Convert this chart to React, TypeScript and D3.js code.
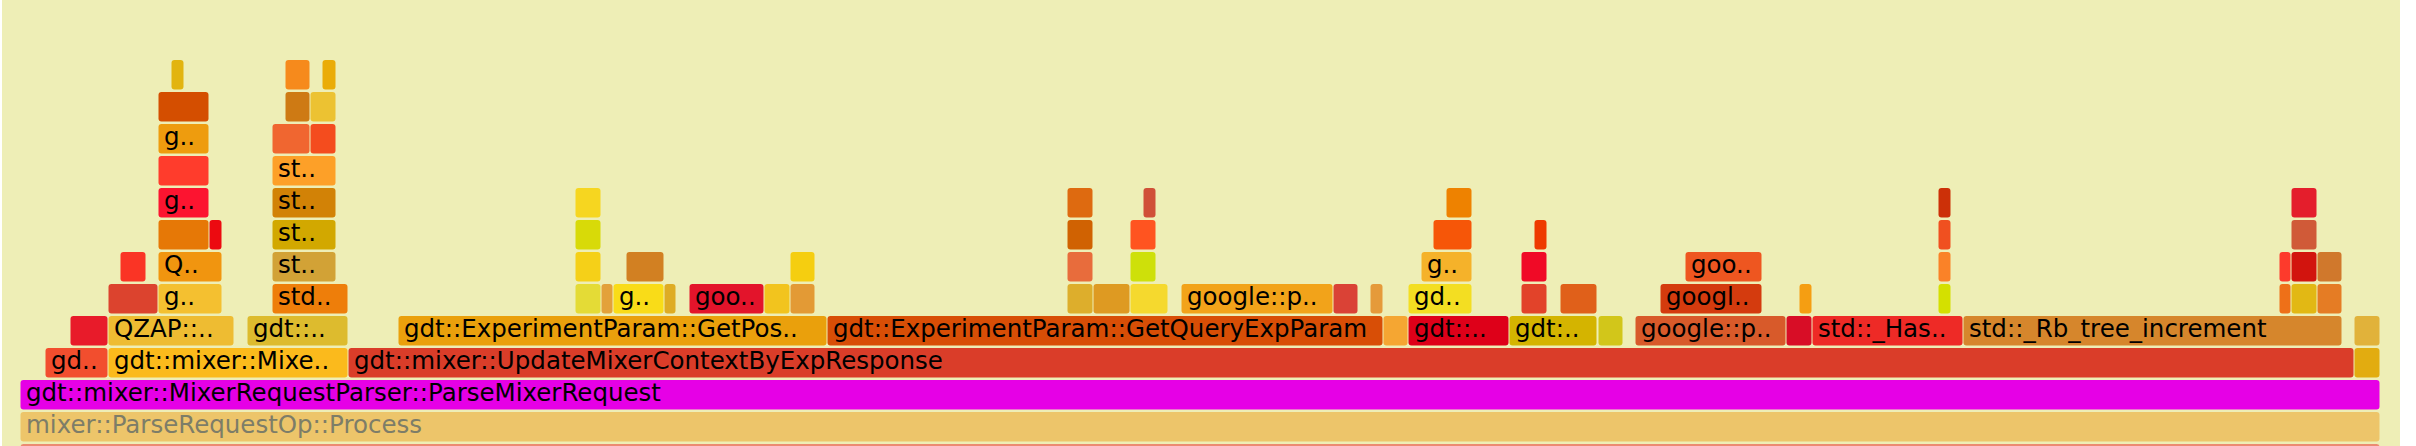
import React from "react";
import * as d3 from "d3";

// Flame graph data: each frame = [start sample, sample count, label]
type Frame = [number, number, string];

const TOTAL_SAMPLES = 2360;
const MAX_DEPTH = 12;

const depth0: Frame[] = [[0, 2360, ""]];
const depth0Colors = ["#ec8a72"];

const depth1: Frame[] = [[0, 2360, "mixer::ParseRequestOp::Process"]];
const depth1Colors = ["#edc56a"];

const depth2: Frame[] = [[0, 2360, "gdt::mixer::MixerRequestParser::ParseMixerRequest"]];
const depth2Colors = ["#e600e6"];

const depth3: Frame[] = [
  [25, 63, "gd.."],
  [88, 240, "gdt::mixer::Mixe.."],
  [328, 2006, "gdt::mixer::UpdateMixerContextByExpResponse"],
  [2334, 26, ""],
];
const depth3Colors = ["#f24e2e", "#fbba1c", "#da3d29", "#e2ac10"];

const depth4: Frame[] = [
  [50, 38, ""],
  [88, 126, "QZAP::.."],
  [227, 101, "gdt::.."],
  [378, 429, "gdt::ExperimentParam::GetPos.."],
  [807, 556, "gdt::ExperimentParam::GetQueryExpParam"],
  [1363, 25, ""],
  [1388, 101, "gdt::.."],
  [1489, 88, "gdt:.."],
  [1578, 25, ""],
  [1615, 151, "google::p.."],
  [1766, 26, ""],
  [1792, 151, "std::_Has.."],
  [1943, 379, "std::_Rb_tree_increment"],
  [2334, 26, ""],
];
const depth4Colors = [
  "#e81b2a", "#eebc32", "#ddbb2e", "#eaa00c", "#d84e06", "#f5a632", "#de0019",
  "#d4b400", "#d2c61a", "#d85a2a", "#d80d26", "#ee2a26", "#d6862c", "#e1b23a",
];

const depth5: Frame[] = [
  [88, 50, ""],
  [138, 64, "g.."],
  [252, 76, "std.."],
  [555, 26, ""],
  [581, 12, ""],
  [593, 51, "g.."],
  [644, 12, ""],
  [669, 75, "goo.."],
  [744, 26, ""],
  [770, 25, ""],
  [1047, 26, ""],
  [1073, 37, ""],
  [1110, 38, ""],
  [1161, 152, "google::p.."],
  [1313, 25, ""],
  [1350, 13, ""],
  [1388, 64, "gd.."],
  [1501, 26, ""],
  [1540, 37, ""],
  [1640, 102, "googl.."],
  [1779, 13, ""],
  [1918, 13, ""],
  [2259, 12, ""],
  [2271, 26, ""],
  [2297, 25, ""],
];
const depth5Colors = [
  "#dc432e", "#f4c030", "#ee7e0a", "#e4db36", "#e3a13a", "#f9dc18", "#deac24",
  "#e3142b", "#f2c41e", "#e39a35", "#ddae2c", "#de9a22", "#f5d92e", "#f2a31a",
  "#da4236", "#e59a3a", "#f3de22", "#e2432a", "#e0601a", "#d43b0e", "#f59e12",
  "#d4e000", "#ee7018", "#e2b814", "#e57c24",
];

const depth6: Frame[] = [
  [100, 26, ""],
  [138, 64, "Q.."],
  [252, 64, "st.."],
  [555, 26, ""],
  [606, 38, ""],
  [770, 25, ""],
  [1047, 26, ""],
  [1110, 26, ""],
  [1401, 51, "g.."],
  [1501, 26, ""],
  [1665, 77, "goo.."],
  [1918, 13, ""],
  [2259, 12, ""],
  [2271, 26, ""],
  [2297, 25, ""],
];
const depth6Colors = [
  "#fa3425", "#f1950f", "#d2a236", "#f5d018", "#d28022", "#f5ce10", "#e86c3c",
  "#cee00a", "#f5b22a", "#f00a26", "#ee5620", "#fa8228", "#fd3a2c", "#d2140e",
  "#d0782c",
];

const depth7: Frame[] = [
  [138, 51, ""],
  [189, 13, ""],
  [252, 64, "st.."],
  [555, 26, ""],
  [1047, 26, ""],
  [1110, 26, ""],
  [1413, 39, ""],
  [1514, 13, ""],
  [1918, 13, ""],
  [2271, 26, ""],
];
const depth7Colors = [
  "#e67806", "#ec0a10", "#d2a800", "#d8da08", "#d06202", "#ff5420", "#f65608",
  "#ee3a00", "#f05020", "#d05a38",
];

const depth8: Frame[] = [
  [138, 51, "g.."],
  [252, 64, "st.."],
  [555, 26, ""],
  [1047, 26, ""],
  [1123, 13, ""],
  [1426, 26, ""],
  [1918, 13, ""],
  [2271, 26, ""],
];
const depth8Colors = [
  "#fc1430", "#d28206", "#f6d620", "#de6a10", "#d05038", "#ee8200", "#cc3008",
  "#e41e2c",
];

const depth9: Frame[] = [
  [138, 51, ""],
  [252, 64, "st.."],
];
const depth9Colors = ["#ff3c2c", "#fda028"];

const depth10: Frame[] = [
  [138, 51, "g.."],
  [252, 38, ""],
  [290, 26, ""],
];
const depth10Colors = ["#ee9c0e", "#f06630", "#f44c1e"];

const depth11: Frame[] = [
  [138, 51, ""],
  [265, 25, ""],
  [290, 26, ""],
];
const depth11Colors = ["#d44e00", "#ce7a14", "#ecc232"];

const depth12: Frame[] = [
  [151, 13, ""],
  [265, 25, ""],
  [302, 14, ""],
];
const depth12Colors = ["#e2b410", "#f68a1c", "#eaac08"];

const frameRows: Frame[][] = [
  depth0, depth1, depth2, depth3, depth4, depth5, depth6,
  depth7, depth8, depth9, depth10, depth11, depth12,
];
const colorRows: string[][] = [
  depth0Colors, depth1Colors, depth2Colors, depth3Colors, depth4Colors,
  depth5Colors, depth6Colors, depth7Colors, depth8Colors, depth9Colors,
  depth10Colors, depth11Colors, depth12Colors,
];
// frames drawn with faded (grey) text
const fadedLabels = ["mixer::ParseRequestOp::Process"];

export default function App() {
  const W = 2416;
  const H = 446;
  const x = d3.scaleLinear().domain([0, TOTAL_SAMPLES]).range([20.5, 2380.5]);
  const y = d3.scaleLinear().domain([0, MAX_DEPTH]).range([444, 60]);
  const cellH = 29.5;

  const nodes: JSX.Element[] = [];
  frameRows.forEach((row, depth) => {
    row.forEach(([start, value, label], i) => {
      const x0 = x(start);
      const w = x(start + value) - x0 - 1;
      const top = y(depth);
      nodes.push(
        <g key={`${depth}-${i}`}>
          <rect
            x={x0}
            y={top}
            width={w}
            height={cellH}
            rx={3}
            ry={3}
            fill={colorRows[depth][i]}
          />
          {label ? (
            <text
              x={x0 + 5.5}
              y={top + 21}
              fontFamily="'DejaVu Sans', Verdana, sans-serif"
              fontSize={24.5}
              fill={fadedLabels.includes(label) ? "#7d7d68" : "#000"}
            >
              {label}
            </text>
          ) : null}
        </g>
      );
    });
  });

  return (
    <svg
      width={W}
      height={H}
      style={{ position: "absolute", left: 0, top: 0, display: "block" }}
    >
      <rect x={0} y={0} width={W} height={H} fill="#ffffff" />
      <rect x={2} y={0} width={2398} height={H} fill="#eeeeb6" />
      {nodes}
    </svg>
  );
}
